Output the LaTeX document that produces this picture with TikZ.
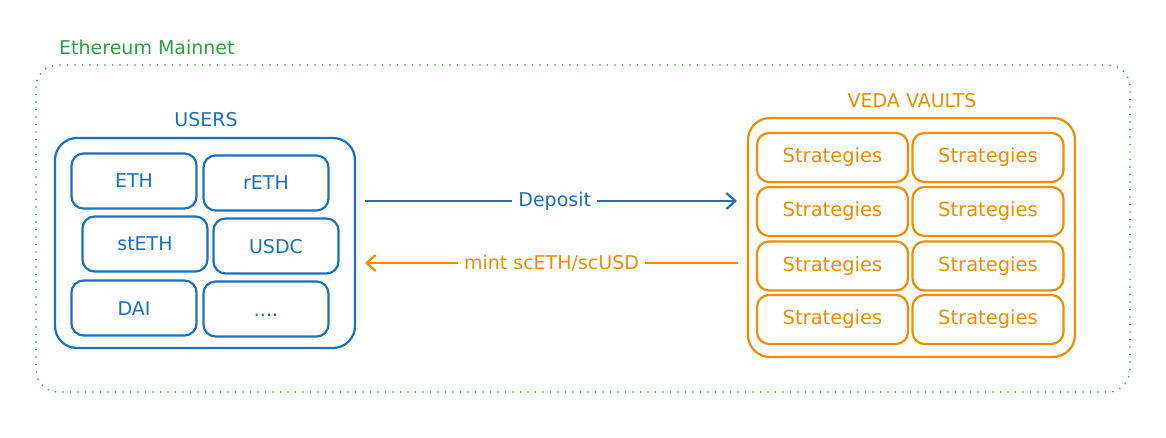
\documentclass[tikz,border=0pt]{standalone}
\usepackage{fontspec}
\setmainfont{DejaVu Sans}
\usetikzlibrary{arrows.meta}
\definecolor{exblue}{HTML}{1971C2}
\definecolor{exorange}{HTML}{F08C00}
\definecolor{exgreen}{HTML}{2F9E44}
\begin{document}
\begin{tikzpicture}[x=1pt,y=-1pt,
  lbl/.style={font=\fontsize{19}{22}\selectfont, inner sep=0pt},
  ubox/.style={draw=exblue, line width=2.2pt, rounded corners=12pt, minimum width=125pt, minimum height=55pt, text=exblue, font=\fontsize{19}{22}\selectfont, text height=14pt, text depth=0pt},
  sbox/.style={draw=exorange, line width=2.2pt, rounded corners=12pt, minimum width=151pt, minimum height=49pt, text=exorange, font=\fontsize{19.5}{22}\selectfont},
  barb/.style={-{Straight Barb[length=9pt,width=16pt,line width=2.2pt]}, line width=2.2pt},
  arrlbl/.style={fill=white, inner xsep=6pt, inner ysep=2pt, font=\fontsize{19}{22}\selectfont}
]
\useasboundingbox[fill=white] (0,0) rectangle (1166,438);
% outer frame
\node[lbl, text=exgreen, anchor=west] (mainnet) at (59,47) {Ethereum Mainnet};
\draw[exgreen, line width=1.8pt, line cap=round, dash pattern=on 0pt off 7.5pt, rounded corners=22pt] (36,65) rectangle (1130,392);
% users
\node[lbl, text=exblue] (userst) at (206,120) {USERS};
\node[draw=exblue, line width=2.2pt, rounded corners=22pt, minimum width=300pt, minimum height=210pt] (users) at (205,243) {};
\node[ubox] (eth) at (134,181) {ETH};
\node[ubox] (reth) at (266,183) {rETH};
\node[ubox] (steth) at (145,244) {stETH};
\node[ubox] (usdc) at (276,246) {USDC};
\node[ubox] (dai) at (134,308) {DAI};
\node[ubox] (more) at (266,309) {....};
% vaults
\node[lbl, text=exorange] (vaultst) at (912,101) {VEDA VAULTS};
\node[draw=exorange, line width=2.2pt, rounded corners=22pt, minimum width=327pt, minimum height=239pt] (vaults) at (911.5,237.5) {};
\foreach \r/\y in {1/157.5,2/211.5,3/266,4/319.5}{
  \node[sbox] (sl\r) at (832.5,\y) {Strategies};
  \node[sbox] (sr\r) at (988,\y) {Strategies};
}
% arrows
\coordinate (depA) at (365,201);
\coordinate (depB) at (737,201);
\coordinate (mintA) at (738,263);
\coordinate (mintB) at (365,263);
\draw[barb, exblue] (depA) -- (depB) node[pos=0.51, arrlbl, text=exblue] (deplbl) {Deposit};
\draw[barb, exorange] (mintA) -- (mintB) node[pos=0.5, arrlbl, text=exorange] (mintlbl) {mint scETH/scUSD};
\end{tikzpicture}
\end{document}
